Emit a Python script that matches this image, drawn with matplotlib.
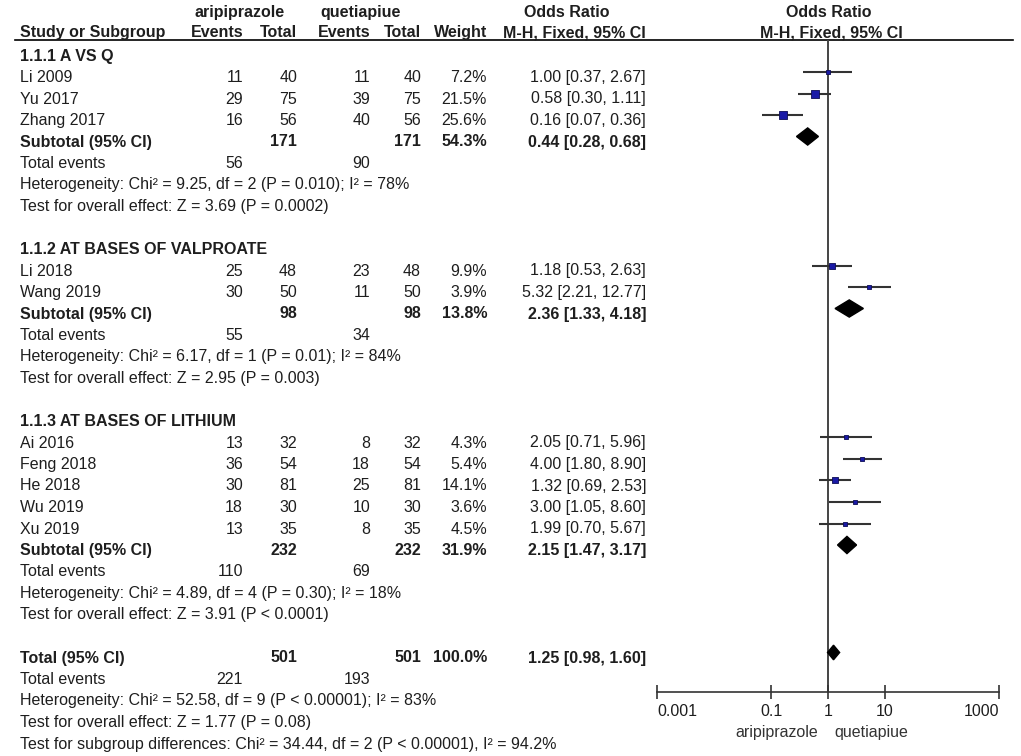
import numpy as np
import matplotlib
matplotlib.use('Agg')
import matplotlib.pyplot as plt

plt.rcParams['font.family'] = ['Liberation Sans', 'DejaVu Sans']

# study level data
studies = ['Li 2009', 'Yu 2017', 'Zhang 2017', 'Li 2018', 'Wang 2019',
           'Ai 2016', 'Feng 2018', 'He 2018', 'Wu 2019', 'Xu 2019']
study_group = [0, 0, 0, 1, 1, 2, 2, 2, 2, 2]
events_a = [11, 29, 16, 25, 30, 13, 36, 30, 18, 13]
total_a = [40, 75, 56, 48, 50, 32, 54, 81, 30, 35]
events_q = [11, 39, 40, 23, 11, 8, 18, 25, 10, 8]
total_q = [40, 75, 56, 48, 50, 32, 54, 81, 30, 35]
weight = [7.2, 21.5, 25.6, 9.9, 3.9, 4.3, 5.4, 14.1, 3.6, 4.5]
odds = [1.00, 0.58, 0.16, 1.18, 5.32, 2.05, 4.00, 1.32, 3.00, 1.99]
ci_low = [0.37, 0.30, 0.07, 0.53, 2.21, 0.71, 1.80, 0.69, 1.05, 0.70]
ci_high = [2.67, 1.11, 0.36, 2.63, 12.77, 5.96, 8.90, 2.53, 8.60, 5.67]

# subgroup data
groups = ['1.1.1 A VS Q', '1.1.2 AT BASES OF VALPROATE', '1.1.3 AT BASES OF LITHIUM']
sub_total_a = [171, 98, 232]
sub_total_q = [171, 98, 232]
sub_weight = [54.3, 13.8, 31.9]
sub_or = [0.44, 2.36, 2.15]
sub_low = [0.28, 1.33, 1.47]
sub_high = [0.68, 4.18, 3.17]
sub_events_a = [56, 55, 110]
sub_events_q = [90, 34, 69]
sub_het = ['Heterogeneity: Chi² = 9.25, df = 2 (P = 0.010); I² = 78%',
           'Heterogeneity: Chi² = 6.17, df = 1 (P = 0.01); I² = 84%',
           'Heterogeneity: Chi² = 4.89, df = 4 (P = 0.30); I² = 18%']
sub_effect = ['Test for overall effect: Z = 3.69 (P = 0.0002)',
              'Test for overall effect: Z = 2.95 (P = 0.003)',
              'Test for overall effect: Z = 3.91 (P < 0.0001)']

# overall
tot_a, tot_q, tot_weight = 501, 501, 100.0
tot_or, tot_low, tot_high = 1.25, 0.98, 1.60
tot_events_a, tot_events_q = 221, 193
tot_het = 'Heterogeneity: Chi² = 52.58, df = 9 (P < 0.00001); I² = 83%'
tot_effect = 'Test for overall effect: Z = 1.77 (P = 0.08)'
subgroup_diff = 'Test for subgroup differences: Chi² = 34.44, df = 2 (P < 0.00001), I² = 94.2%'

ticks = [0.001, 0.1, 1, 10, 1000]
tick_labels = ['0.001', '0.1', '1', '10', '1000']

W, H = 1021, 756
FS = 11.5
TXT = '#1e1e1e'
col_x = [243, 297, 370, 421, 487, 646]


def row_y(k):
    return 50.5 + 21.5 * k


def ci_text(o, l, h):
    return '{:.2f} [{:.2f}, {:.2f}]'.format(o, l, h)


fig = plt.figure(figsize=(W / 100, H / 100), dpi=100)
ax_t = fig.add_axes([0, 0, 1, 1])
ax_t.set_xlim(0, W)
ax_t.set_ylim(H, 0)
ax_t.axis('off')

# forest panel
top_px, bot_px = 40, 692
ax_f = fig.add_axes([657 / W, 1 - bot_px / H, 342 / W, (bot_px - top_px) / H])
ax_f.set_xscale('log')
ax_f.set_xlim(0.001, 1000)
ax_f.set_ylim((bot_px - 50.5) / 21.5, (top_px - 50.5) / 21.5)
ax_f.patch.set_alpha(0)
for s in ['top', 'right', 'left']:
    ax_f.spines[s].set_visible(False)
ax_f.spines['bottom'].set_color('#333333')
ax_f.spines['bottom'].set_linewidth(1.2)
ax_f.set_xticks(ticks)
ax_f.set_xticklabels(tick_labels)
ax_f.minorticks_off()
ax_f.set_yticks([])
ax_f.tick_params(axis='x', direction='inout', length=10, width=1.2,
                 color='#333333', labelsize=FS, labelcolor=TXT, pad=4)
labels = ax_f.get_xticklabels()
labels[0].set_ha('left')
labels[-1].set_ha('right')
ax_f.axvline(1, color='#444444', lw=1.4, zorder=1)


def txt(x, k, s, ha='left', bold=False):
    ax_t.text(x, row_y(k) + 10, s, ha=ha, va='baseline', fontsize=FS,
              color=TXT, fontweight='bold' if bold else 'normal')


def diamond(k, o, l, h, half):
    ax_f.fill([l, o, h, o], [k, k - half, k, k + half], color='black', zorder=3)


# header
hb = dict(fontsize=FS, color=TXT, fontweight='bold', va='baseline')
ax_t.text(240, 17, 'aripiprazole', ha='center', **hb)
ax_t.text(361, 17, 'quetiapiue', ha='center', **hb)
ax_t.text(567, 17, 'Odds Ratio', ha='center', **hb)
ax_t.text(829, 17, 'Odds Ratio', ha='center', **hb)
ax_t.text(20, 37, 'Study or Subgroup', ha='left', **hb)
for x, s in zip(col_x, ['Events', 'Total', 'Events', 'Total', 'Weight', 'M-H, Fixed, 95% CI']):
    ax_t.text(x, 37, s, ha='right', **hb)
ax_t.text(831, 37, 'M-H, Fixed, 95% CI', ha='center', **hb)
ax_t.plot([15, 1013], [39.5, 39.5], color='black', lw=1.2)

k = 0
for g in range(len(groups)):
    txt(20, k, groups[g], bold=True)
    k += 1
    for i in range(len(studies)):
        if study_group[i] != g:
            continue
        vals = [events_a[i], total_a[i], events_q[i], total_q[i],
                '{:.1f}%'.format(weight[i]), ci_text(odds[i], ci_low[i], ci_high[i])]
        txt(20, k, studies[i])
        for x, v in zip(col_x, vals):
            txt(x, k, str(v), ha='right')
        ax_f.hlines(k, ci_low[i], ci_high[i], color='#333333', lw=1.5, zorder=2)
        side = 1.6 * np.sqrt(weight[i]) * 0.72
        ax_f.scatter([odds[i]], [k], marker='s', s=side ** 2, color='#1a1aa6',
                     edgecolors='#0d0d55', linewidths=0.6, zorder=4)
        k += 1
    txt(20, k, 'Subtotal (95% CI)', bold=True)
    txt(col_x[1], k, str(sub_total_a[g]), ha='right', bold=True)
    txt(col_x[3], k, str(sub_total_q[g]), ha='right', bold=True)
    txt(col_x[4], k, '{:.1f}%'.format(sub_weight[g]), ha='right', bold=True)
    txt(col_x[5], k, ci_text(sub_or[g], sub_low[g], sub_high[g]), ha='right', bold=True)
    diamond(k, sub_or[g], sub_low[g], sub_high[g], 0.4)
    k += 1
    txt(20, k, 'Total events')
    txt(col_x[0], k, str(sub_events_a[g]), ha='right')
    txt(col_x[2], k, str(sub_events_q[g]), ha='right')
    k += 1
    txt(20, k, sub_het[g])
    k += 1
    txt(20, k, sub_effect[g])
    k += 2

txt(20, k, 'Total (95% CI)', bold=True)
txt(col_x[1], k, str(tot_a), ha='right', bold=True)
txt(col_x[3], k, str(tot_q), ha='right', bold=True)
txt(col_x[4], k, '{:.1f}%'.format(tot_weight), ha='right', bold=True)
txt(col_x[5], k, ci_text(tot_or, tot_low, tot_high), ha='right', bold=True)
diamond(k, tot_or, tot_low, tot_high, 0.34)
k += 1
txt(20, k, 'Total events')
txt(col_x[0], k, str(tot_events_a), ha='right')
txt(col_x[2], k, str(tot_events_q), ha='right')
txt(20, k + 1, tot_het)
txt(20, k + 2, tot_effect)
txt(20, k + 3, subgroup_diff)

# favours labels
ax_t.text(777, 737, 'aripiprazole', ha='center', va='baseline', fontsize=FS, color='#333333')
ax_t.text(871, 737, 'quetiapiue', ha='center', va='baseline', fontsize=FS, color='#333333')

fig.savefig('out.png', dpi=100)
